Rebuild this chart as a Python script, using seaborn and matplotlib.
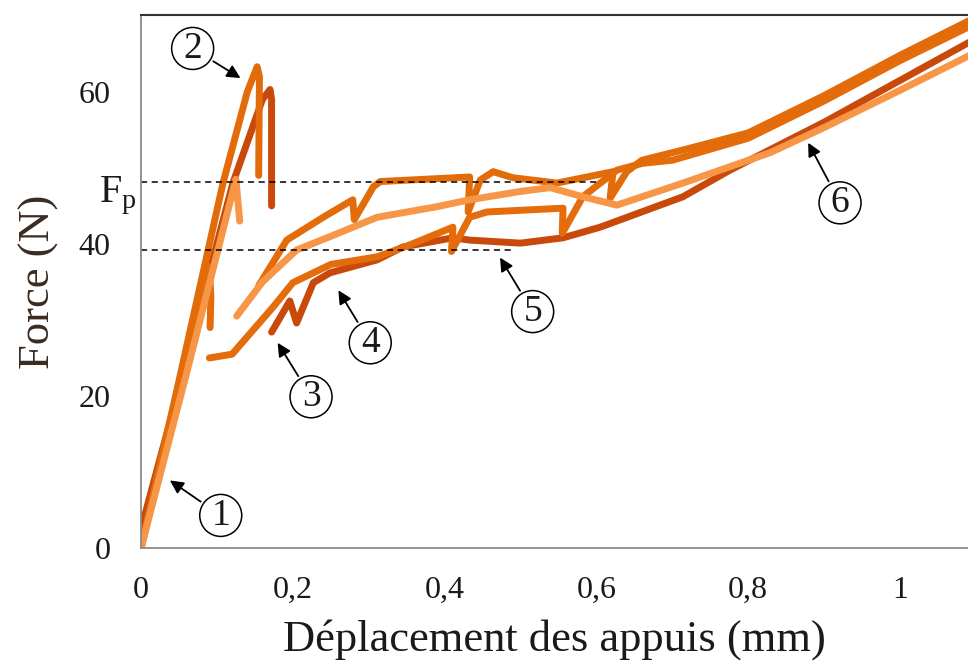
import pandas as pd
import seaborn as sns
import matplotlib.pyplot as plt

# Essais de flexion : force en fonction du déplacement des appuis
# (chaque essai est découpé en tronçons,
#  le retour élastique après rupture n'est pas tracé)

# Ep1 : pic à 63 N
depl_ep1_a = [0.0, 0.05, 0.108, 0.14, 0.153, 0.156, 0.155]
force_ep1_a = [0.0, 22.0, 48.0, 60.0, 63.3, 62.0, 49.0]
depl_ep1_b = [0.155, 0.192, 0.24, 0.279, 0.281, 0.306, 0.315, 0.433, 0.431, 0.447, 0.464,
              0.49, 0.548, 0.622, 0.618, 0.64, 0.66, 0.72, 0.80, 0.90, 1.0, 1.10]
force_ep1_b = [34.5, 40.5, 43.5, 45.8, 43.2, 47.5, 48.2, 48.8, 44.2, 48.4, 49.5,
               48.7, 48.0, 49.5, 46.0, 49.5, 51.0, 52.5, 54.6, 59.5, 64.8, 69.8]

# Ep2 : rupture précoce vers 0,09 mm
depl_ep2_a = [0.0, 0.045, 0.09, 0.092, 0.091]
force_ep2_a = [0.0, 19.0, 37.0, 33.0, 29.0]
depl_ep2_b = [0.09, 0.12, 0.174, 0.20, 0.25, 0.311, 0.35, 0.411, 0.409, 0.433, 0.456,
              0.556, 0.555, 0.582, 0.627, 0.661, 0.70, 0.80, 0.90, 1.0, 1.10]
force_ep2_b = [25.0, 25.5, 31.7, 34.9, 37.3, 38.3, 39.7, 42.2, 39.0, 43.5, 44.2,
               44.7, 41.4, 46.2, 49.7, 50.6, 51.0, 53.9, 58.8, 64.1, 69.0]

# Ep3 : pic à 60 N
depl_ep3_a = [0.0, 0.05, 0.121, 0.16, 0.170, 0.172, 0.172]
force_ep3_a = [2.5, 21.0, 48.0, 59.0, 60.3, 59.0, 45.0]
depl_ep3_b = [0.172, 0.196, 0.205, 0.227, 0.249, 0.311, 0.345, 0.411, 0.433, 0.50,
              0.556, 0.605, 0.714, 0.776, 0.90, 1.0, 1.10]
force_ep3_b = [28.4, 32.5, 29.6, 34.9, 36.2, 37.9, 39.6, 40.8, 40.5, 40.1,
               40.8, 42.2, 46.2, 49.7, 56.0, 61.5, 67.0]

# Ep4 : première rupture vers 48 N
depl_ep4_a = [0.0, 0.06, 0.125, 0.13]
force_ep4_a = [0.0, 23.0, 48.5, 43.0]
depl_ep4_b = [0.126, 0.16, 0.205, 0.25, 0.311, 0.39, 0.433, 0.50, 0.539, 0.582,
              0.627, 0.714, 0.829, 0.90, 1.0, 1.10]
force_ep4_b = [30.5, 35.0, 39.2, 41.0, 43.5, 44.9, 45.8, 46.9, 47.4, 46.2,
               45.1, 48.0, 52.0, 55.3, 60.2, 65.2]

eprouvettes = ['Ep3', 'Ep2', 'Ep1', 'Ep4']
couleurs = {'Ep1': '#E36C0A', 'Ep2': '#E46C0A', 'Ep3': '#C8490A', 'Ep4': '#F79646'}

# niveaux de palier (F_p) et longueur des pointillés
fp_haut, fp_haut_fin = 48.2, 0.60
fp_bas, fp_bas_fin = 39.2, 0.49

# repères numérotés : (texte, position du cercle, pointe de la flèche)
reperes = [
    ('1', (0.105, 4.3), (0.038, 8.9)),
    ('2', (0.068, 65.7), (0.131, 61.8)),
    ('3', (0.224, 19.9), (0.180, 27.0)),
    ('4', (0.302, 27.0), (0.260, 33.9)),
    ('5', (0.516, 31.1), (0.473, 38.2)),
    ('6', (0.921, 45.4), (0.879, 53.3)),
]

x_ticks = [0, 0.2, 0.4, 0.6, 0.8, 1.0]
x_ticklabels = ['0', '0,2', '0,4', '0,6', '0,8', '1']
y_ticks = [0, 20, 40, 60]


def main():
    sns.set_style('white')
    plt.rcParams['font.family'] = ['Liberation Serif', 'DejaVu Serif']
    plt.rcParams['mathtext.fontset'] = 'custom'
    plt.rcParams['mathtext.rm'] = 'Liberation Serif'

    troncons = [
        ('Ep1', depl_ep1_a, force_ep1_a), ('Ep1', depl_ep1_b, force_ep1_b),
        ('Ep2', depl_ep2_a, force_ep2_a), ('Ep2', depl_ep2_b, force_ep2_b),
        ('Ep3', depl_ep3_a, force_ep3_a), ('Ep3', depl_ep3_b, force_ep3_b),
        ('Ep4', depl_ep4_a, force_ep4_a), ('Ep4', depl_ep4_b, force_ep4_b),
    ]
    frames = []
    for i, (nom, d, f) in enumerate(troncons):
        frames.append(pd.DataFrame({'depl': d, 'force': f, 'eprouvette': nom, 'troncon': i}))
    df = pd.concat(frames, ignore_index=True)

    fig = plt.figure(figsize=(9.68, 6.66), dpi=100)
    ax = fig.add_axes([0.1457, 0.177, 0.8543, 0.8005])

    sns.lineplot(data=df, x='depl', y='force', hue='eprouvette', units='troncon',
                 estimator=None, sort=False, palette=couleurs, hue_order=eprouvettes,
                 linewidth=5, legend=False, ax=ax,
                 solid_capstyle='round', solid_joinstyle='round')

    # lignes de palier
    ax.plot([0, fp_haut_fin], [fp_haut, fp_haut], ls=(0, (4, 3)), color='black', lw=1.1)
    ax.plot([0, fp_bas_fin], [fp_bas, fp_bas], ls=(0, (4, 3)), color='black', lw=1.1)
    ax.text(-0.005, 46.3, r'F$_\mathrm{p}$', fontsize=29, ha='right', va='center',
            color='#1a1a1a', clip_on=False)

    for txt, pos, pointe in reperes:
        ax.annotate(txt, xy=pointe, xytext=pos, fontsize=27, ha='center', va='center',
                    color='#1a1a1a',
                    bbox=dict(boxstyle='circle,pad=0.1', fc='white', ec='black', lw=1.1),
                    arrowprops=dict(arrowstyle='-|>', color='black', lw=1.3,
                                    mutation_scale=20, shrinkB=0))

    ax.set_xlim(0, 1.0896)
    ax.set_ylim(0, 70.1)
    ax.set_xticks(x_ticks)
    ax.set_xticklabels(x_ticklabels)
    ax.set_yticks(y_ticks)
    ax.tick_params(axis='both', direction='out', length=6, width=1, color='#8a8a8a',
                   labelsize=23, labelcolor='#1a1a1a')
    ax.tick_params(axis='x', pad=14)
    ax.tick_params(axis='y', pad=16)
    ax.set_xlabel('Déplacement des appuis (mm)', fontsize=32, color='#1a1a1a', labelpad=10)
    ax.set_ylabel('Force (N)', fontsize=32, color='#3a2a20', labelpad=14)

    for s in ['left', 'bottom']:
        ax.spines[s].set_color('#8a8a8a')
        ax.spines[s].set_linewidth(1.3)
    ax.spines['top'].set_color('#333333')
    ax.spines['top'].set_linewidth(1.5)
    ax.spines['right'].set_visible(False)

    fig.savefig('out.png', dpi=100)
    plt.close(fig)


if __name__ == '__main__':
    main()
